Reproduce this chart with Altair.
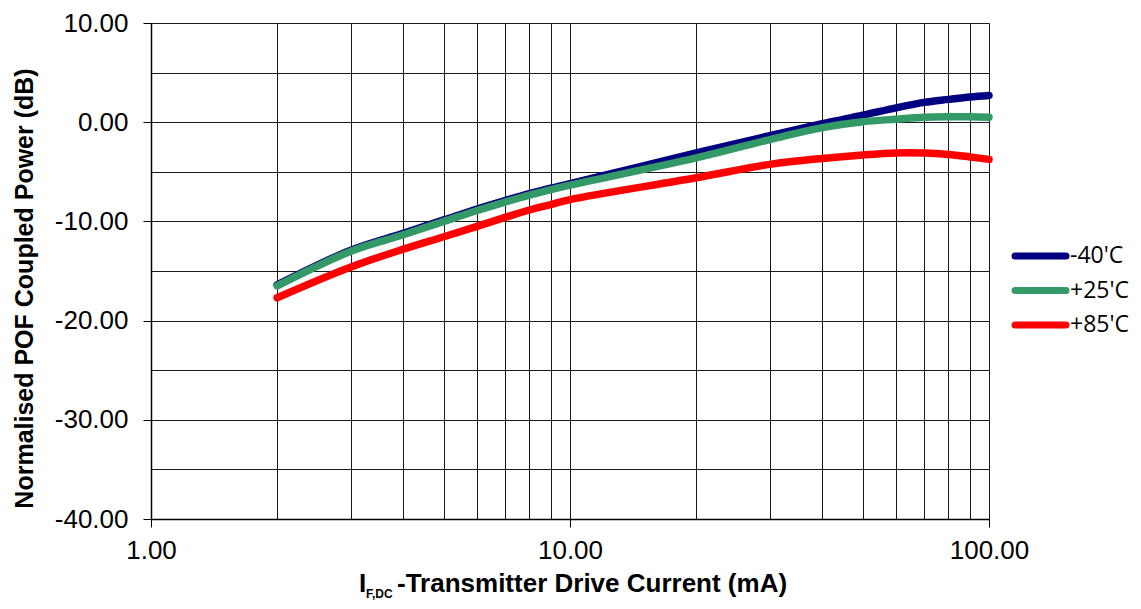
import altair as alt
import pandas as pd

# ---- data ----
current_ma = [2, 3, 4, 5, 6, 7, 8, 9, 10, 20, 30, 40, 50, 60, 70, 80, 90, 100]
power_m40 = [-16.4, -12.9, -11.2, -9.85, -8.75, -7.9, -7.2, -6.65, -6.2,
             -3.1, -1.35, -0.15, 0.7, 1.45, 2.0, 2.3, 2.55, 2.7]
power_p25 = [-16.5, -13.0, -11.35, -10.0, -8.9, -8.05, -7.35, -6.8, -6.35,
             -3.6, -1.75, -0.55, 0.05, 0.3, 0.5, 0.55, 0.55, 0.5]
power_p85 = [-17.7, -14.6, -12.8, -11.55, -10.5, -9.6, -8.85, -8.3, -7.8,
             -5.6, -4.25, -3.65, -3.3, -3.1, -3.1, -3.25, -3.5, -3.75]

series_names = ["-40'C", "+25'C", "+85'C"]
series_colors = ["#000080", "#339966", "#FF0000"]

x_tick_values = [1, 2, 3, 4, 5, 6, 7, 8, 9, 10, 20, 30, 40, 50, 60, 70, 80, 90, 100]
y_tick_values = [-40, -35, -30, -25, -20, -15, -10, -5, 0, 5, 10]

y_title = "Normalised POF Coupled Power (dB)"
x_title_main = "-Transmitter Drive Current (mA)"
x_title_letter = "I"
x_title_sub = "F,DC"

# ---- build table ----
rows = []
for name, vals in zip(series_names, [power_m40, power_p25, power_p85]):
    for x, y in zip(current_ma, vals):
        rows.append({"series": name, "current": x, "power": y})
df = pd.DataFrame(rows)

color_scale = alt.Scale(domain=series_names, range=series_colors)

major_x_test = "datum.value == 1 || datum.value == 10 || datum.value == 100"
major_y_test = "datum.value % 10 == 0"

PLOT_H = 496

x_axis = alt.Axis(
    values=x_tick_values,
    labelExpr=f"({major_x_test}) ? format(datum.value, '.2f') : ''",
    tickOpacity={"condition": {"test": major_x_test, "value": 1}, "value": 0},
    tickSize=8, tickColor="#000", tickWidth=1,
    labelPadding=10, labelFont="Liberation Sans", labelFontSize=26,
    labelColor="#000", labelOverlap=False, labelFlush=False,
    domainColor="#000", domainWidth=1.5,
    grid=True, gridColor="#1a1a1a", gridWidth=1,
    title=None,
)
y_axis = alt.Axis(
    values=y_tick_values,
    labelExpr=f"({major_y_test}) ? (datum.value < 0 ? '-' : '') + format(abs(datum.value), '.2f') : ''",
    tickOpacity={"condition": {"test": major_y_test, "value": 1}, "value": 0},
    tickSize=8, tickColor="#000", tickWidth=1,
    labelPadding=15, labelFont="Liberation Sans", labelFontSize=26,
    labelColor="#000", labelOverlap=False, labelFlush=False,
    domainColor="#000", domainWidth=1.5,
    grid=True, gridColor="#1a1a1a", gridWidth=1,
    title=y_title, titleFont="Liberation Sans", titleFontSize=25,
    titleFontWeight="bold", titleColor="#000",
    titleAngle=-90, titleX=-119, titleY=265,
    titleAlign="center", titleBaseline="alphabetic",
)

x_scale = alt.Scale(type="log", domain=[1, 100], nice=False)
y_scale = alt.Scale(domain=[-40, 10], nice=False)


def series_line(name):
    return alt.Chart(df).transform_filter(
        alt.datum.series == name
    ).mark_line(strokeWidth=7.5, strokeCap="round", strokeJoin="round",
                interpolate="catmull-rom").encode(
        x=alt.X("current:Q", scale=x_scale, axis=x_axis),
        y=alt.Y("power:Q", scale=y_scale, axis=y_axis),
        color=alt.Color("series:N", scale=color_scale, legend=None),
    )


lines = alt.layer(*[series_line(n) for n in series_names])

legend_df = pd.DataFrame({"series": series_names})
legend_y = alt.Y("series:N", scale=alt.Scale(type="point", domain=series_names,
                                             range=[233, 302], padding=0), axis=None)
legend_rules = alt.Chart(legend_df).mark_rule(strokeWidth=7, strokeCap="round").encode(
    x=alt.value(864), x2=alt.value(915), y=legend_y,
    color=alt.Color("series:N", scale=color_scale, legend=None),
)
legend_text = alt.Chart(legend_df).mark_text(
    align="left", baseline="middle", font="Open Sans", fontSize=23, color="#000"
).encode(x=alt.value(919), y=legend_y, text="series:N")

legend = alt.layer(legend_rules, legend_text)

t_letter = alt.Chart(pd.DataFrame({"t": [x_title_letter]})).mark_text(
    align="left", baseline="alphabetic", font="Liberation Sans", fontWeight="bold",
    fontSize=26, color="#000"
).encode(x=alt.value(208), y=alt.value(569), text="t:N")
t_sub = alt.Chart(pd.DataFrame({"t": [x_title_sub]})).mark_text(
    align="left", baseline="alphabetic", font="Liberation Sans", fontWeight="bold",
    fontSize=12, color="#000"
).encode(x=alt.value(215), y=alt.value(575), text="t:N")
t_main = alt.Chart(pd.DataFrame({"t": [x_title_main]})).mark_text(
    align="left", baseline="alphabetic", font="Liberation Sans", fontWeight="bold",
    fontSize=26, color="#000"
).encode(x=alt.value(246), y=alt.value(569), text="t:N")

chart = alt.layer(
    lines, legend, t_letter, t_sub, t_main
).resolve_scale(y="independent").properties(
    width=838, height=PLOT_H,
    autosize=alt.AutoSizeParams(type="none"),
    padding={"left": 143, "top": 15, "right": 144, "bottom": 82},
).configure_view(stroke="#808080", strokeWidth=2).configure(background="white")

chart.save("out.html", embed_options={"renderer": "svg", "actions": False})
